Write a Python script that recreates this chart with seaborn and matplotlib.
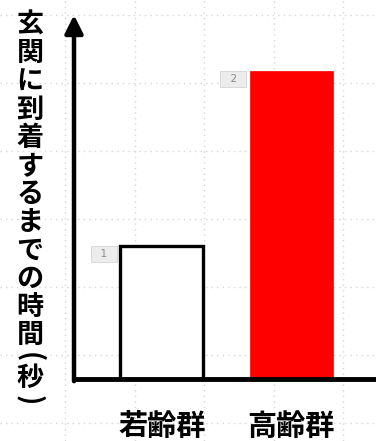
import numpy as np
import matplotlib
matplotlib.use("Agg")
import matplotlib.pyplot as plt
import seaborn as sns

# data
groups = ["若齢群", "高齢群"]
times = [10.0, 23.2]
bar_colors = ["#ffffff", "#ff0000"]
edge_colors = ["#000000", "#ff0000"]
marker_labels = ["1", "2"]
ylabel_chars = list("玄関に到着するまでの時間") + ["(", "秒", ")"]

sns.set_theme(style="white")
plt.rcParams["font.family"] = ["Noto Sans CJK JP", "DejaVu Sans"]

W, H = 376, 441
fig = plt.figure(figsize=(W / 100, H / 100), dpi=100)
fig.patch.set_facecolor("white")

# dotted paper grid behind everything
bg = fig.add_axes([0, 0, 1, 1], zorder=-1)
bg.set_xlim(0, W)
bg.set_ylim(H, 0)
bg.set_xticks(np.arange(65, W, 69.5))
bg.set_yticks(np.arange(15, H, 68))
bg.grid(True, ls=(0, (1, 3)), color="#d6d6d6", lw=1.0)
bg.tick_params(length=0, labelbottom=False, labelleft=False)
for s in bg.spines.values():
    s.set_visible(False)

# main axes
ax_left, ax_bottom, ax_top = 74, 379, 15
ax = fig.add_axes([ax_left / W, (H - ax_bottom) / H,
                   (W - ax_left) / W, (ax_bottom - ax_top) / H])
ax.set_facecolor("none")

sns.barplot(x=groups, y=times, hue=groups, palette=bar_colors,
            saturation=1, width=0.64, legend=False, ax=ax, zorder=2)
for patch, fc, ec in zip(ax.patches, bar_colors, edge_colors):
    patch.set_facecolor(fc)
    patch.set_edgecolor(ec)
    patch.set_linewidth(2.4 if ec == "#000000" else 0.5)

ax.set_xlim(-0.677, 1.654)
ax.set_ylim(0, 27.4)
ax.set_yticks([])
ax.set_xlabel("")
ax.set_ylabel("")
ax.tick_params(axis="x", length=0, pad=23)
for lab in ax.get_xticklabels():
    lab.set_fontsize(21)
    lab.set_fontweight("bold")
    lab.set_color("black")

for side in ["top", "right", "left"]:
    ax.spines[side].set_visible(False)
ax.spines["bottom"].set_linewidth(3.5)
ax.spines["bottom"].set_color("black")
ax.spines["bottom"].set_zorder(3)

# y axis with arrow head
ax.annotate("", xy=(0, 1.0), xytext=(0, -0.006),
            xycoords="axes fraction", textcoords="axes fraction",
            arrowprops=dict(arrowstyle="-|>,head_length=0.9,head_width=0.45",
                            lw=3.2, color="black", shrinkA=0, shrinkB=0),
            annotation_clip=False)

# small numbered tags next to the bars
for patch, tag in zip(ax.patches, marker_labels):
    ax.annotate(f"  {tag}  ", xy=(patch.get_x(), patch.get_height()),
                xytext=(-4.8, -5.8), textcoords="offset points",
                ha="right", va="center", fontsize=7.5, color="#8a8a8a",
                family="DejaVu Sans",
                bbox=dict(boxstyle="square,pad=0.3", fc="#ececec",
                          ec="#d4d4d4", lw=0.6))

# vertical y label, one character at a time (parentheses turned upright)
y = 25.0
for i, ch in enumerate(ylabel_chars):
    fig.text(30 / W, 1 - y / H, ch, ha="center", va="center",
             rotation=-90 if ch in "()" else 0,
             fontsize=19.5, fontweight="bold", color="black")
    if i + 1 < len(ylabel_chars):
        nxt = ylabel_chars[i + 1]
        y += 21.5 if (ch in "()" or nxt in "()") else 28.2

fig.savefig("out.png", dpi=100, facecolor="white")
